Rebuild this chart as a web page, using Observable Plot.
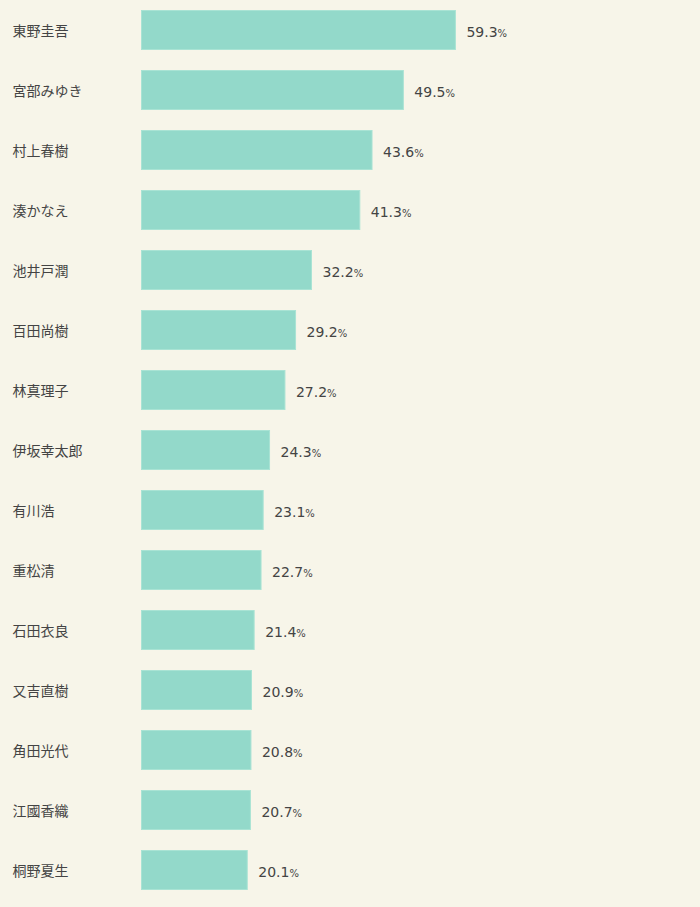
<!DOCTYPE html>
<html><head><meta charset="utf-8">
<script src="https://cdn.jsdelivr.net/npm/d3@7"></script>
<script src="https://cdn.jsdelivr.net/npm/@observablehq/plot@0.6"></script>
<style>
html,body{margin:0;padding:0;background:#f7f5e9;}
#chart svg{display:block;background:#f7f5e9;}
</style></head>
<body><div id="chart"></div>
<script>
const authors = ["東野圭吾","宮部みゆき","村上春樹","湊かなえ","池井戸潤","百田尚樹","林真理子","伊坂幸太郎","有川浩","重松清","石田衣良","又吉直樹","角田光代","江國香織","桐野夏生"];
const values = [59.3,49.5,43.6,41.3,32.2,29.2,27.2,24.3,23.1,22.7,21.4,20.9,20.8,20.7,20.1];
const data = authors.map((a,i)=>({author:a, value:values[i]}));
const font = "'Noto Sans CJK JP','Noto Sans',sans-serif";
const chart = Plot.plot({
  width: 700, height: 907,
  marginLeft: 141, marginRight: 28, marginTop: 0, marginBottom: 7,
  style: {background: "#f7f5e9", fontFamily: font, color: "#444"},
  x: {domain: [0,100], axis: null},
  y: {domain: authors, axis: null, paddingInner: 1/3, paddingOuter: 1/6},
  marks: [
    Plot.barX(data, {x: "value", y: "author", fill: "#93d9ca", stroke: "#a9e3d4", strokeWidth: 1, inset: 0.5}),
    Plot.text(data, {x: 0, y: "author", text: "author", textAnchor: "start", dx: -129, dy: 1, fontSize: 14, fill: "#444"}),
    Plot.text(data, {x: "value", y: "author", text: d => d.value.toFixed(1), textAnchor: "start", dx: 10, dy: 2, fontSize: 14, fontFamily: "'DejaVu Sans',Verdana,sans-serif", fill: "#444"})
  ]
});
d3.select(chart).selectAll("g[aria-label='text']").filter((d,i)=>i===1).selectAll("text").each(function(){
  d3.select(this).append("tspan").attr("font-size", 10).text("%");
});
document.getElementById("chart").appendChild(chart);
</script></body></html>
